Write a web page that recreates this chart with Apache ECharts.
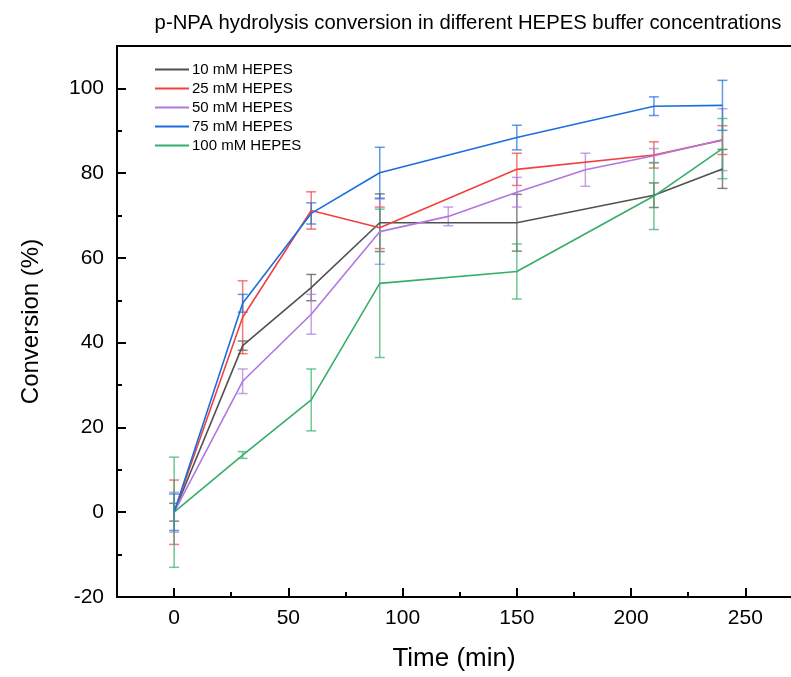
<!DOCTYPE html>
<html>
<head>
<meta charset="utf-8">
<script src="https://cdn.jsdelivr.net/npm/echarts@6/dist/echarts.min.js"></script>
<style>
html,body{margin:0;padding:0;background:#fff;}
#chart{width:791px;height:677px;}
</style>
</head>
<body>
<div id="chart"></div>
<script>
// ---- data ----
const seriesNames = ['10 mM HEPES','25 mM HEPES','50 mM HEPES','75 mM HEPES','100 mM HEPES'];
const timeStd = [0, 30, 60, 90, 150, 210, 240];
const time50 = [0, 30, 60, 90, 120, 150, 180, 210, 240];
const conv10 = [0, 39.3, 53.0, 68.3, 68.3, 74.8, 81.0];
const err10 = [2.1, 1.1, 3.1, 6.8, 6.7, 2.9, 4.6];
const conv25 = [0, 46.0, 71.2, 67.1, 80.9, 84.3, 87.8];
const err25 = [7.6, 8.6, 4.4, 4.9, 3.8, 3.1, 3.4];
const conv50 = [0, 30.9, 46.7, 66.2, 69.8, 75.5, 80.8, 84.1, 87.9];
const err50 = [4.7, 2.9, 4.7, 7.7, 2.2, 3.5, 3.9, 1.7, 7.3];
const conv75 = [0, 49.3, 70.5, 80.1, 88.4, 95.8, 96.0];
const err75 = [4.3, 2.1, 2.5, 6.0, 2.9, 2.2, 5.9];
const conv100 = [0, 13.5, 26.5, 54.0, 56.8, 74.6, 85.8];
const err100 = [13.0, 0.8, 7.3, 17.5, 6.5, 7.9, 7.1];
const xMajorTicks = [0, 50, 100, 150, 200, 250];
const xMinorTicks = [25, 75, 125, 175, 225];
const yMajorTicks = [-20, 0, 20, 40, 60, 80, 100];
const yMinorTicks = [-10, 10, 30, 50, 70, 90];

const colors = ['#515151', '#F14040', '#B177DE', '#1A6FDF', '#37AD6B'];
const groups = [
  {t: timeStd, v: conv10, e: err10},
  {t: timeStd, v: conv25, e: err25},
  {t: time50, v: conv50, e: err50},
  {t: timeStd, v: conv75, e: err75},
  {t: timeStd, v: conv100, e: err100}
];

const chart = echarts.init(document.getElementById('chart'), null, {renderer: 'canvas'});
const FONT = 'Liberation Sans, Arial, sans-serif';

function errRender(color) {
  return function (params, api) {
    const x = api.value(0);
    const lo = api.coord([x, api.value(1)]);
    const hi = api.coord([x, api.value(2)]);
    const hw = 5;
    const style = {stroke: color, lineWidth: 1.5, opacity: 0.7};
    return {
      type: 'group',
      children: [
        {type: 'line', shape: {x1: lo[0], y1: lo[1], x2: hi[0], y2: hi[1]}, style: style},
        {type: 'line', shape: {x1: lo[0] - hw, y1: lo[1], x2: lo[0] + hw, y2: lo[1]}, style: style},
        {type: 'line', shape: {x1: hi[0] - hw, y1: hi[1], x2: hi[0] + hw, y2: hi[1]}, style: style}
      ]
    };
  };
}

const series = [];
groups.forEach((g, i) => {
  series.push({
    type: 'custom',
    name: seriesNames[i] + ' err',
    xAxisIndex: 0, yAxisIndex: 0,
    renderItem: errRender(colors[i]),
    data: g.t.map((t, k) => [t, g.v[k] - g.e[k], g.v[k] + g.e[k]]),
    encode: {x: 0, y: [1, 2]},
    silent: true,
    z: 1
  });
});
groups.forEach((g, i) => {
  series.push({
    type: 'line',
    name: seriesNames[i],
    xAxisIndex: 0, yAxisIndex: 0,
    data: g.t.map((t, k) => [t, g.v[k]]),
    symbol: 'none',
    lineStyle: {color: colors[i], width: 1.6},
    itemStyle: {color: colors[i]},
    z: 3
  });
});

const option = {
  animation: false,
  backgroundColor: '#fff',
  title: {
    text: 'p-NPA hydrolysis conversion in different HEPES buffer concentrations',
    left: 463, top: 8, textAlign: 'center',
    textStyle: {fontFamily: FONT, fontSize: 20.3, fontWeight: 'normal', color: '#000'}
  },
  legend: {
    data: seriesNames,
    orient: 'vertical',
    left: 150, top: 57,
    itemWidth: 34, itemHeight: 14, itemGap: 4,
    icon: 'path://M0,6 L34,6 L34,8 L0,8 Z',
    textStyle: {fontFamily: FONT, fontSize: 15, color: '#000', padding: [0, 0, 0, -2]}
  },
  grid: {left: 117, right: 0, top: 46, bottom: 78, containLabel: false},
  xAxis: [
    {
      type: 'value', position: 'bottom', min: -25, max: 270,
      name: 'Time (min)', nameLocation: 'middle', nameGap: 49,
      nameTextStyle: {fontFamily: FONT, fontSize: 26, color: '#000'},
      axisLine: {show: true, onZero: false, lineStyle: {color: '#000', width: 2}},
      axisTick: {show: true, inside: true, length: 9, customValues: xMajorTicks, lineStyle: {color: '#000', width: 2}},
      axisLabel: {customValues: xMajorTicks, fontFamily: FONT, fontSize: 21, color: '#000', margin: 11},
      splitLine: {show: false}
    },
    {
      type: 'value', position: 'bottom', min: -25, max: 270,
      axisLine: {show: false, onZero: false},
      axisTick: {show: true, inside: true, length: 5, customValues: xMinorTicks, lineStyle: {color: '#000', width: 2}},
      axisLabel: {show: false},
      splitLine: {show: false}
    },
    {
      type: 'value', position: 'top', min: -25, max: 270,
      axisLine: {show: true, onZero: false, lineStyle: {color: '#000', width: 2}},
      axisTick: {show: false}, axisLabel: {show: false}, splitLine: {show: false}
    }
  ],
  yAxis: [
    {
      type: 'value', position: 'left', min: -20, max: 110,
      name: 'Conversion (%)', nameLocation: 'middle', nameGap: 74, nameRotate: 90,
      nameTextStyle: {fontFamily: FONT, fontSize: 24, color: '#000'},
      axisLine: {show: true, onZero: false, lineStyle: {color: '#000', width: 2}},
      axisTick: {show: true, inside: true, length: 9, customValues: yMajorTicks, lineStyle: {color: '#000', width: 2}},
      axisLabel: {customValues: yMajorTicks, fontFamily: FONT, fontSize: 21, color: '#000', margin: 13},
      splitLine: {show: false}
    },
    {
      type: 'value', position: 'left', min: -20, max: 110,
      axisLine: {show: false, onZero: false},
      axisTick: {show: true, inside: true, length: 5, customValues: yMinorTicks, lineStyle: {color: '#000', width: 2}},
      axisLabel: {show: false},
      splitLine: {show: false}
    }
  ],
  series: series
};
chart.setOption(option);
</script>
</body>
</html>
